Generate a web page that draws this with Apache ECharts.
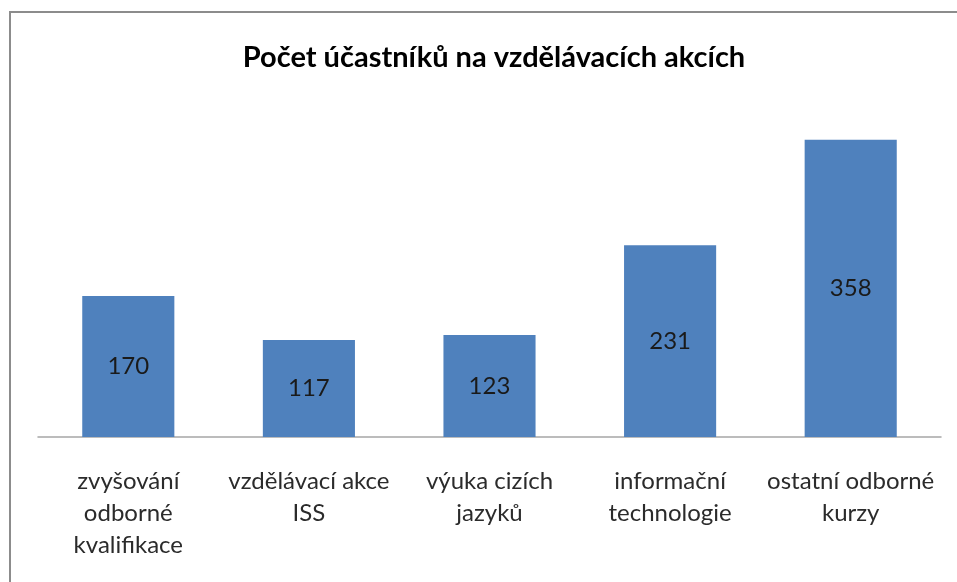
<!DOCTYPE html>
<html>
<head>
<meta charset="utf-8">
<script src="https://cdn.jsdelivr.net/npm/echarts@6/dist/echarts.min.js"></script>
<style>
  html, body { margin: 0; padding: 0; background: #fff; }
  #main { width: 957px; height: 582px; }
</style>
</head>
<body>
<div id="main"></div>
<script>
var titleText = 'Počet účastníků na vzdělávacích akcích';
var categories = [
  'zvyšování\nodborné\nkvalifikace',
  'vzdělávací akce\nISS',
  'výuka cizích\njazyků',
  'informační\ntechnologie',
  'ostatní odborné\nkurzy'
];
var values = [170, 117, 123, 231, 358];

var chartDom = document.getElementById('main');
var myChart = echarts.init(chartDom);
var option;

option = {
  animation: false,
  title: {
    text: titleText,
    left: 489,
    textAlign: 'center',
    top: 38,
    textStyle: {
      fontFamily: 'Lato',
      fontWeight: 'bold',
      fontSize: 29,
      color: '#000'
    }
  },
  graphic: [
    {
      type: 'rect',
      shape: { x: 10, y: 12, width: 960, height: 600 },
      style: { fill: 'none', stroke: '#8c8c8c', lineWidth: 2 },
      silent: true
    }
  ],
  grid: {
    left: 38,
    right: 16,
    top: 105,
    bottom: 145
  },
  xAxis: {
    type: 'category',
    data: categories,
    axisTick: { show: false },
    axisLine: { lineStyle: { color: '#a6a6a6', width: 1.5 } },
    axisLabel: {
      margin: 28,
      interval: 0,
      fontFamily: 'Lato',
      fontSize: 24,
      lineHeight: 32,
      color: '#2b2b2b'
    }
  },
  yAxis: {
    type: 'value',
    min: 0,
    max: 400,
    show: false,
    splitLine: { show: false }
  },
  series: [
    {
      type: 'bar',
      data: values,
      barWidth: '51%',
      itemStyle: { color: '#4f81bd' },
      label: {
        show: true,
        position: 'inside',
        fontFamily: 'Lato',
        fontSize: 24,
        color: '#1a1a1a'
      }
    }
  ]
};

option && myChart.setOption(option);
</script>
</body>
</html>
